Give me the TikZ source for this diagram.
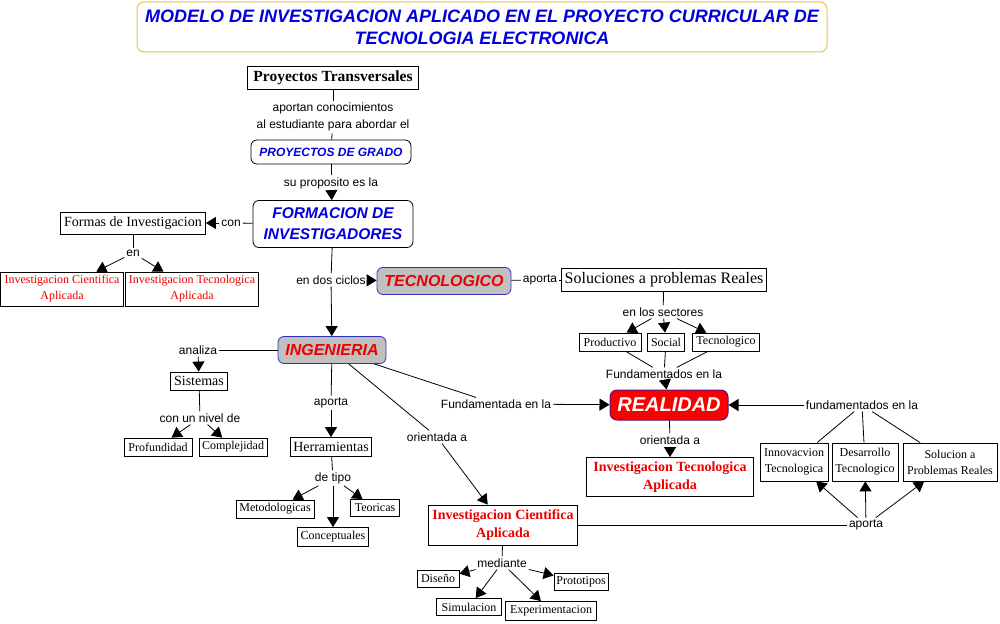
\documentclass[tikz,border=0pt]{standalone}
\usepackage{fontspec}
\setmainfont{Liberation Serif}
\setsansfont{Liberation Sans}
\usetikzlibrary{arrows.meta}
\definecolor{tblue}{RGB}{0,0,220}
\definecolor{tred}{RGB}{235,0,0}
\definecolor{gold}{RGB}{232,196,70}
\definecolor{gfill}{RGB}{192,192,192}
\definecolor{bborder}{RGB}{50,50,190}
\definecolor{rfill}{RGB}{250,0,0}
\definecolor{rborder}{RGB}{90,20,140}
\newcommand{\fz}[2]{\fontsize{#1pt}{#2pt}\selectfont}
\begin{document}
\begin{tikzpicture}[x=1pt,y=-1pt,
  box/.style={draw, line width=0.8pt, fill=white, inner sep=1pt, align=center, font=\rmfamily},
  rbox/.style={box, rounded corners=6pt},
  gbox/.style={draw=bborder, line width=0.8pt, fill=gfill, rounded corners=6pt, inner sep=1pt,
     text=tred, font=\sffamily\bfseries\itshape\fz{16}{18}},
  lbl/.style={font=\sffamily\fz{12}{14}, inner sep=2pt, align=center},
  ln/.style={line width=0.8pt},
  arr/.style={ln, -{Triangle[length=10pt,width=12pt]}},
  sm/.style={font=\rmfamily\fz{12}{16}},
  redt/.style={text=tred, font=\rmfamily\fz{12}{16}},
  redb/.style={text=tred, font=\rmfamily\bfseries\fz{14}{18}}
]
\useasboundingbox (0,0) rectangle (1000,623);
% title
\node[draw=gold, line width=1pt, rounded corners=7pt, fill=white, minimum width=690pt, minimum height=50pt,
  align=center, font=\sffamily\bfseries\itshape\fz{18}{22}, text=tblue] (title) at (482,27)
  {MODELO DE INVESTIGACION APLICADO EN EL PROYECTO CURRICULAR DE\\TECNOLOGIA ELECTRONICA};
% top chain
\node[box, minimum width=171pt, minimum height=23pt, font=\rmfamily\bfseries\fz{15.5}{17}] (pt) at (333,78) {Proyectos Transversales};
\node[lbl, font=\sffamily\fz{12}{17}] (l1) at (333,117) {aportan conocimientos\\al estudiante para abordar el};
\node[rbox, minimum width=160pt, minimum height=24pt, font=\sffamily\bfseries\itshape\fz{12}{14}, text=tblue] (pg) at (331,152) {PROYECTOS DE GRADO};
\node[lbl] (l2) at (331,183) {su proposito es la};
\node[rbox, minimum width=160pt, minimum height=47pt, font=\sffamily\bfseries\itshape\fz{15.5}{21}, text=tblue] (fi) at (333,224) {FORMACION DE\\INVESTIGADORES};
% left branch
\node[lbl] (l3) at (231,223) {con};
\node[box, minimum width=145pt, minimum height=22pt, font=\rmfamily\fz{14}{16}] (fo) at (133,223) {Formas de Investigacion};
\node[lbl] (l4) at (133,253) {en};
\node[box, redt, minimum width=123pt, minimum height=34pt] (ica1) at (62,289) {Investigacion Cientifica\\Aplicada};
\node[box, redt, minimum width=133pt, minimum height=34pt] (ita1) at (192,289) {Investigacion Tecnologica\\Aplicada};
% cycles
\node[lbl] (l5) at (331,280) {en dos ciclos};
\node[gbox, minimum width=134pt, minimum height=27pt] (tec) at (444,281) {TECNOLOGICO};
\node[gbox, minimum width=108pt, minimum height=27pt] (ing) at (332,350) {INGENIERIA};
% tecnologico branch
\node[lbl] (l6) at (540,280) {aporta};
\node[box, minimum width=205pt, minimum height=23pt, font=\rmfamily\fz{16}{18}] (sol) at (664,280) {Soluciones a problemas Reales};
\node[lbl] (l7) at (663,312) {en los sectores};
\node[box, sm, minimum width=62pt, minimum height=18pt] (pro) at (610,342) {Productivo};
\node[box, sm, minimum width=37pt, minimum height=18pt] (soc) at (666,342) {Social};
\node[box, sm, minimum width=67pt, minimum height=18pt] (tcn) at (726,342) {Tecnologico};
\node[lbl] (l8) at (664,374) {Fundamentados en la};
\node[draw=rborder, line width=1pt, fill=rfill, rounded corners=7pt, minimum width=118pt, minimum height=30pt,
  inner sep=1pt, text=white, font=\sffamily\bfseries\itshape\fz{20}{22}] (rea) at (669,405) {REALIDAD};
% ingenieria branch
\node[lbl] (l9) at (198,350) {analiza};
\node[box, minimum width=57pt, minimum height=18pt, font=\rmfamily\fz{14}{16}] (sis) at (199,381) {Sistemas};
\node[lbl] (l10) at (200,418) {con un nivel de};
\node[box, sm, minimum width=68pt, minimum height=18pt] (prf) at (158,447) {Profundidad};
\node[box, sm, minimum width=68pt, minimum height=18pt] (cmp) at (233,447) {Complejidad};
\node[lbl] (l11) at (331,403) {aporta};
\node[box, minimum width=81pt, minimum height=19pt, font=\rmfamily\fz{14}{16}] (her) at (331,447) {Herramientas};
\node[lbl] (l12) at (333,478) {de tipo};
\node[box, sm, minimum width=78pt, minimum height=18pt] (met) at (275,509) {Metodologicas};
\node[box, sm, minimum width=71pt, minimum height=19pt] (cnc) at (333,537) {Conceptuales};
\node[box, sm, minimum width=49pt, minimum height=17pt] (teo) at (375,508) {Teoricas};
\node[lbl] (l13) at (496,404) {Fundamentada en la};
\node[lbl] (l14) at (437,437) {orientada a};
\node[box, redb, minimum width=149pt, minimum height=40pt] (ica2) at (503,525) {Investigacion Cientifica\\Aplicada};
\node[lbl] (l15) at (670,440) {orientada a};
\node[box, redb, minimum width=167pt, minimum height=39pt] (ita2) at (670,477) {Investigacion Tecnologica\\Aplicada};
% right cluster
\node[lbl] (l16) at (862,405) {fundamentados en la};
\node[box, sm, minimum width=68pt, minimum height=38pt] (inn) at (794,462) {Innovacvion\\Tecnologica};
\node[box, sm, minimum width=66pt, minimum height=38pt] (des) at (865,462) {Desarrollo\\Tecnologico};
\node[box, sm, minimum width=94pt, minimum height=38pt] (slp) at (950,462) {Solucion a\\Problemas Reales};
\node[lbl] (l17) at (866,525) {aporta};
% bottom
\node[lbl] (l18) at (502,563) {mediante};
\node[box, sm, minimum width=42pt, minimum height=17pt] (dis) at (438,579) {Diseño};
\node[box, sm, minimum width=65pt, minimum height=17pt] (sim) at (469,607) {Simulacion};
\node[box, sm, minimum width=91pt, minimum height=19pt] (exp) at (551,611) {Experimentacion};
\node[box, sm, minimum width=54pt, minimum height=17pt] (prt) at (581,582) {Prototipos};
% connectors
\draw[ln] (pt) -- (l1);
\draw[ln] (l1) -- (pg);
\draw[ln] (pg) -- (l2);
\draw[arr] (l2) -- (fi);
\draw[ln] (fi) -- (l3);
\draw[arr] (l3) -- (fo);
\draw[ln] (fo) -- (l4);
\draw[arr] (l4) -- (ica1);
\draw[arr] (l4) -- (ita1);
\draw[ln] (fi) -- (l5);
\draw[arr] (l5) -- (tec);
\draw[arr] (l5) -- (ing);
\draw[ln] (tec) -- (l6);
\draw[ln] (l6) -- (sol);
\draw[ln] (sol) -- (l7);
\draw[arr] (l7) -- (pro);
\draw[arr] (l7) -- (soc);
\draw[arr] (l7) -- (tcn);
\draw[ln] (pro) -- (l8);
\draw[ln] (soc) -- (l8);
\draw[ln] (tcn) -- (l8);
\draw[arr] (l8) -- (rea);
\draw[ln] (ing) -- (l9);
\draw[arr] (l9) -- (sis);
\draw[ln] (sis) -- (l10);
\draw[arr] (l10) -- (prf);
\draw[arr] (l10) -- (cmp);
\draw[ln] (ing) -- (l11);
\draw[arr] (l11) -- (her);
\draw[ln] (her) -- (l12);
\draw[arr] (l12) -- (met);
\draw[arr] (l12) -- (cnc);
\draw[arr] (l12) -- (teo);
\draw[ln] (ing) -- (l13);
\draw[arr] (l13) -- (rea);
\draw[ln] (ing) -- (l14);
\draw[arr] (l14) -- (ica2);
\draw[ln] (rea) -- (l15);
\draw[arr] (l15) -- (ita2);
\draw[arr] (l16) -- (rea);
\draw[ln] (inn) -- (l16);
\draw[ln] (des) -- (l16);
\draw[ln] (slp) -- (l16);
\draw[ln] (ica2) -- (l17);
\draw[arr] (l17) -- (inn);
\draw[arr] (l17) -- (des);
\draw[arr] (l17) -- (slp);
\draw[ln] (ica2) -- (l18);
\draw[arr] (l18) -- (dis);
\draw[arr] (l18) -- (sim);
\draw[arr] (l18) -- (exp);
\draw[arr] (l18) -- (prt);
\end{tikzpicture}
\end{document}
